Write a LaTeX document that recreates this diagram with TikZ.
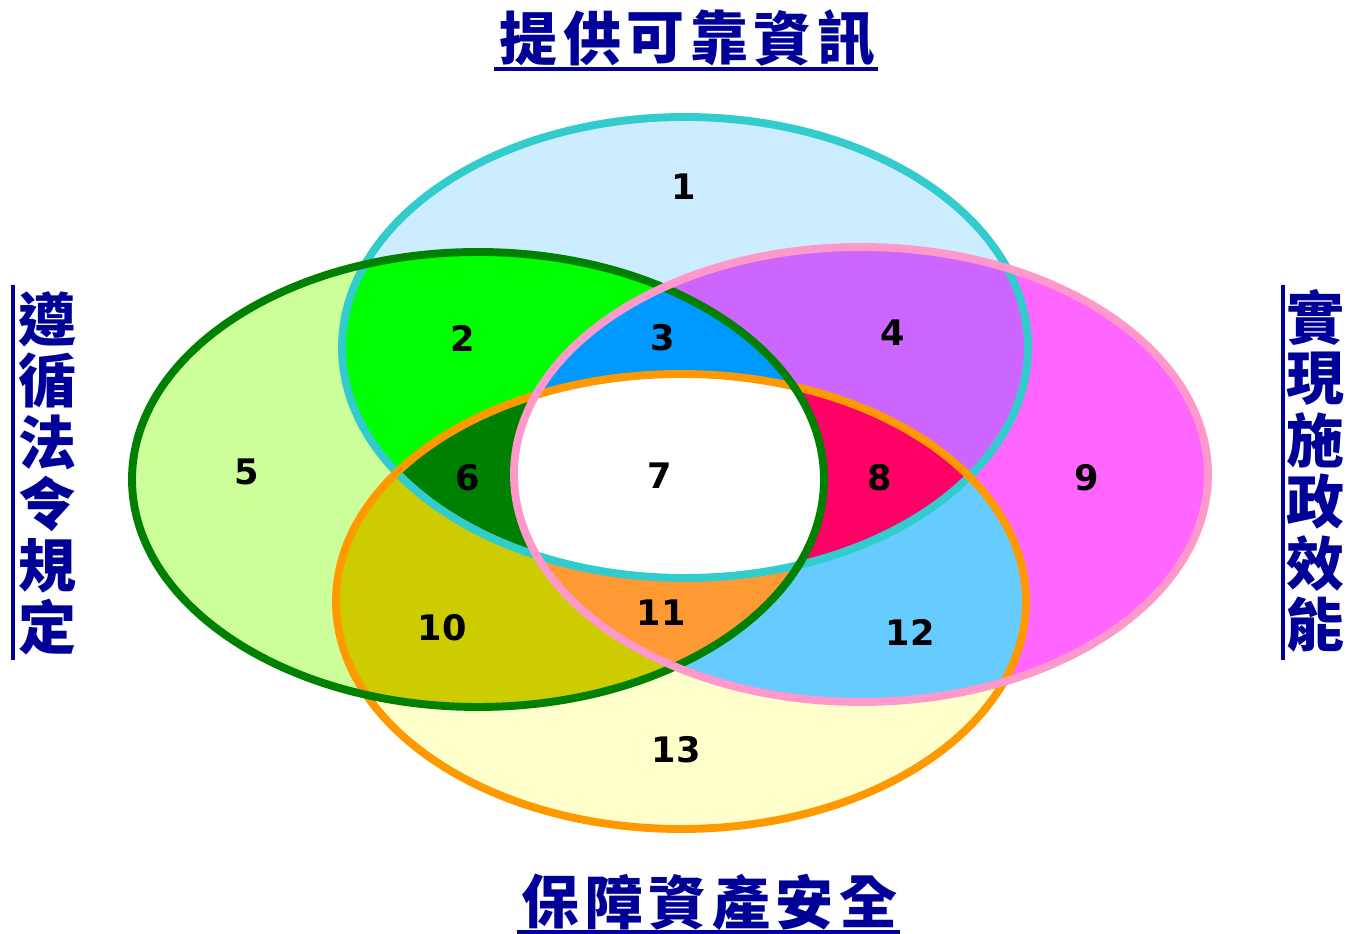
\documentclass[tikz,border=0pt]{standalone}
\usepackage{fontspec}
\setmainfont{DejaVu Sans}
\newfontfamily\cjkfont{Noto Sans CJK TC}
\usepackage{tikz}
\definecolor{titleblue}{RGB}{0, 0, 153}
\definecolor{rimcyan}{RGB}{51, 204, 204}
\definecolor{rimgreen}{RGB}{0, 128, 0}
\definecolor{rimpink}{RGB}{255, 153, 204}
\definecolor{rimorange}{RGB}{255, 153, 0}
\definecolor{fillone}{RGB}{204, 236, 255}
\definecolor{filltwo}{RGB}{0, 255, 0}
\definecolor{fillthree}{RGB}{0, 153, 255}
\definecolor{fillfour}{RGB}{204, 102, 255}
\definecolor{fillfive}{RGB}{204, 255, 153}
\definecolor{fillsix}{RGB}{0, 128, 0}
\definecolor{filleight}{RGB}{255, 0, 102}
\definecolor{fillnine}{RGB}{255, 102, 255}
\definecolor{fillten}{RGB}{204, 204, 0}
\definecolor{filleleven}{RGB}{255, 153, 51}
\definecolor{filltwelve}{RGB}{102, 204, 255}
\definecolor{fillthirteen}{RGB}{255, 255, 204}
% the four ellipses
\newcommand{\ellTop}{(13.70,11.73) ellipse [x radius=6.86, y radius=4.61]}
\newcommand{\ellLeft}{(9.56,9.09) ellipse [x radius=6.92, y radius=4.55]}
\newcommand{\ellRight}{(17.22,9.19) ellipse [x radius=6.94, y radius=4.55]}
\newcommand{\ellBottom}{(13.62,6.65) ellipse [x radius=6.90, y radius=4.55]}

\begin{document}
\begin{tikzpicture}[
    region/.style={font=\bfseries\fontsize{20}{20}\selectfont, inner sep=0pt},
    titlechar/.style={font=\cjkfont\bfseries\fontsize{33}{33}\selectfont, text=titleblue, inner sep=0pt},
    titlerule/.style={draw=titleblue, line width=1.8pt},
    rim/.style={line width=4.5pt}
  ]
  \useasboundingbox (0,0) rectangle (27.04,18.68);

  % single areas
  \fill[fillone] \ellTop;
  \fill[fillfive] \ellLeft;
  \fill[fillnine] \ellRight;
  \fill[fillthirteen] \ellBottom;

  % two at a time
  \begin{scope} \clip \ellTop; \fill[filltwo] \ellLeft; \fill[fillfour] \ellRight; \end{scope}
  \begin{scope} \clip \ellBottom; \fill[fillten] \ellLeft; \fill[filltwelve] \ellRight; \end{scope}

  % three at a time
  \begin{scope} \clip \ellTop; \clip \ellLeft; \fill[fillthree] \ellRight; \fill[fillsix] \ellBottom; \end{scope}
  \begin{scope} \clip \ellBottom; \clip \ellRight; \fill[filleight] \ellTop; \fill[filleleven] \ellLeft; \end{scope}

  % all four
  \begin{scope} \clip \ellTop; \clip \ellLeft; \clip \ellRight; \fill[white] \ellBottom; \end{scope}

  % rims
  \draw[rim, rimcyan] \ellTop;
  \draw[rim, rimorange] \ellBottom;
  \draw[rim, rimgreen] \ellLeft;
  \draw[rim, rimpink] \ellRight;

  % area numbers
  \node[region] (n1) at (13.68, 14.94) {1};
  \node[region] (n2) at (9.26, 11.92) {2};
  \node[region] (n3) at (13.26, 11.92) {3};
  \node[region] (n4) at (17.86, 12.02) {4};
  \node[region] (n5) at (4.94, 9.24) {5};
  \node[region] (n6) at (9.36, 9.12) {6};
  \node[region] (n7) at (13.20, 9.16) {7};
  \node[region] (n8) at (17.60, 9.12) {8};
  \node[region] (n9) at (21.74, 9.12) {9};
  \node[region] (n10) at (8.84, 6.12) {10};
  \node[region] (n11) at (13.22, 6.42) {11};
  \node[region] (n12) at (18.20, 6.04) {12};
  \node[region] (n13) at (13.52, 3.68) {13};

  % titles
  \foreach \ch [count=\i] in {提,供,可,靠,資,訊}
    \node[titlechar] (top\i) at ({13.75+(\i-3.5)*1.27}, 17.92) {\ch};
  \draw[titlerule] (9.88,17.30) -- (17.56,17.30);

  \foreach \ch [count=\i] in {保,障,資,產,安,全}
    \node[titlechar] (bot\i) at ({14.19+(\i-3.5)*1.27}, 0.64) {\ch};
  \draw[titlerule] (10.34,0.04) -- (18.00,0.04);

  \foreach \ch [count=\i] in {遵,循,法,令,規,定}
    \node[titlechar] (lft\i) at (0.94, {12.30-(\i-1)*1.232}) {\ch};
  \draw[titlerule] (0.26,12.98) -- (0.26,5.48);

  \foreach \ch [count=\i] in {實,現,施,政,效,能}
    \node[titlechar] (rgt\i) at (26.30, {12.34-(\i-1)*1.232}) {\ch};
  \draw[titlerule] (25.66,12.98) -- (25.66,5.48);
\end{tikzpicture}
\end{document}
